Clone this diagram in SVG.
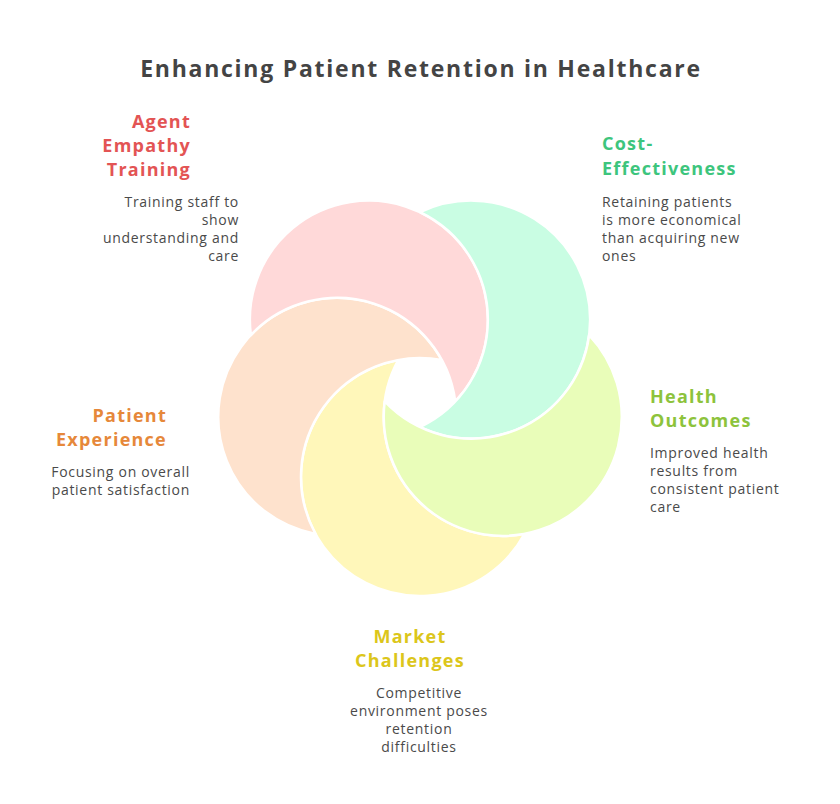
<svg xmlns="http://www.w3.org/2000/svg" width="840" height="804" viewBox="0 0 840 804">
<style>
.petal{stroke:#ffffff;stroke-width:2.5;stroke-linejoin:round}
.h{font-family:"Open Sans","Liberation Sans",sans-serif;font-weight:700;font-size:18px;letter-spacing:1.25px}
.b{font-family:"Open Sans","Liberation Sans",sans-serif;font-size:14px;fill:#4a4a4a;letter-spacing:0.7px}
.t{font-family:"Open Sans","Liberation Sans",sans-serif;font-weight:700;font-size:23px;fill:#444444;letter-spacing:1.75px}
</style>
<rect width="840" height="804" fill="#ffffff"/>
<text class="t" x="421" y="77" text-anchor="middle">Enhancing Patient Retention in Healthcare</text>
<g id="market-challenges">
<path class="petal" fill="#FFF7BA" d="M524.53 533.87 A119 119 0 1 1 398.21 360.01 A119 119 0 0 0 524.53 533.87 Z"/>
<text class="h" fill="#DCC61B" text-anchor="middle"><tspan x="410" y="643">Market</tspan><tspan x="410" y="667">Challenges</tspan></text>
<text class="b" text-anchor="middle"><tspan x="419" y="698">Competitive</tspan><tspan x="419" y="716">environment poses</tspan><tspan x="419" y="734">retention</tspan><tspan x="419" y="752">difficulties</tspan></text>
</g>
<g id="patient-experience">
<path class="petal" fill="#FEE2CD" d="M315.47 533.87 A119 119 0 1 1 441.79 360.01 A119 119 0 0 0 315.47 533.87 Z"/>
<text class="h" fill="#E6883A" text-anchor="end"><tspan x="167" y="422">Patient</tspan><tspan x="167" y="446">Experience</tspan></text>
<text class="b" text-anchor="end"><tspan x="190" y="477">Focusing on overall</tspan><tspan x="190" y="495">patient satisfaction</tspan></text>
</g>
<g id="agent-empathy-training">
<path class="petal" fill="#FFD9D9" d="M250.87 335.05 A119 119 0 1 1 455.26 401.46 A119 119 0 0 0 250.87 335.05 Z"/>
<text class="h" fill="#E35454" text-anchor="end"><tspan x="191" y="128">Agent</tspan><tspan x="191" y="152">Empathy</tspan><tspan x="191" y="176">Training</tspan></text>
<text class="b" text-anchor="end"><tspan x="239" y="207">Training staff to</tspan><tspan x="239" y="225">show</tspan><tspan x="239" y="243">understanding and</tspan><tspan x="239" y="261">care</tspan></text>
</g>
<g id="cost-effectiveness">
<path class="petal" fill="#C9FDE3" d="M420 212.17 A119 119 0 1 1 420 427.07 A119 119 0 0 0 420 212.17 Z"/>
<text class="h" fill="#3DC57D"><tspan x="602" y="150">Cost-</tspan><tspan x="602" y="175">Effectiveness</tspan></text>
<text class="b"><tspan x="602" y="207">Retaining patients</tspan><tspan x="602" y="225">is more economical</tspan><tspan x="602" y="243">than acquiring new</tspan><tspan x="602" y="261">ones</tspan></text>
</g>
<g id="health-outcomes">
<path class="petal" fill="#E9FDB9" d="M589.13 335.05 A119 119 0 1 1 384.74 401.46 A119 119 0 0 0 589.13 335.05 Z"/>
<text class="h" fill="#8DC33C"><tspan x="650" y="403">Health</tspan><tspan x="650" y="427">Outcomes</tspan></text>
<text class="b"><tspan x="650" y="458">Improved health</tspan><tspan x="650" y="476">results from</tspan><tspan x="650" y="494">consistent patient</tspan><tspan x="650" y="512">care</tspan></text>
</g>
<g id="connectors"/>
</svg>
